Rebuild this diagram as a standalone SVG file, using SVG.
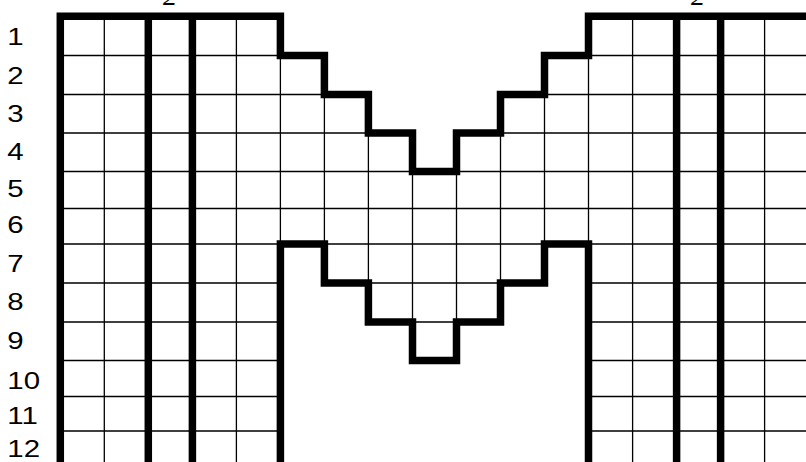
<svg xmlns="http://www.w3.org/2000/svg" width="806" height="462" viewBox="0 0 806 462">
<style>
.bg{fill:#fff}
.thin{stroke:#000;stroke-width:1.3;fill:none}
.thick{stroke:#000;stroke-width:7.5;fill:none;stroke-linejoin:miter;stroke-linecap:butt}
.lbl{font-family:"Liberation Sans",Arial,sans-serif;font-size:24.5px;fill:#000}
.frag{font-family:"Liberation Serif","Times New Roman",serif;font-style:italic;font-size:28px;fill:#000;text-anchor:middle}
</style>
<rect class="bg" x="0" y="0" width="806" height="462"/>
<g id="labels" transform="scale(1.2,1)">
<text class="lbl" x="6.1" y="45">1</text>
<text class="lbl" x="6.1" y="84">2</text>
<text class="lbl" x="6.1" y="122">3</text>
<text class="lbl" x="6.1" y="160">4</text>
<text class="lbl" x="6.1" y="197">5</text>
<text class="lbl" x="6.1" y="233">6</text>
<text class="lbl" x="6.1" y="272">7</text>
<text class="lbl" x="6.1" y="310">8</text>
<text class="lbl" x="6.1" y="349">9</text>
<text class="lbl" x="6.1" y="389">10</text>
<text class="lbl" x="6.1" y="424">11</text>
<text class="lbl" x="6.1" y="457">12</text>
</g>
<g id="top-fragments">
<text class="frag" x="170" y="5">2</text>
<text class="frag" x="698" y="5">2</text>
</g>
<g id="grid-left">
<path class="thin" d="M60.3 55.5H280.4M60.3 94.5H280.4M60.3 133H280.4M60.3 171.5H280.4M60.3 208.5H280.4M60.3 244H280.4M60.3 283H280.4M60.3 322H280.4M60.3 360.5H280.4M60.3 396.5H280.4M60.3 431H280.4"/>
<path class="thin" d="M104.3 16.3V462M236.4 16.3V462M280.4 55.5V244"/>
</g>
<g id="grid-right">
<path class="thin" d="M588.5 55.5H806M588.5 94.5H806M588.5 133H806M588.5 171.5H806M588.5 208.5H806M588.5 244H806M588.5 283H806M588.5 322H806M588.5 360.5H806M588.5 396.5H806M588.5 431H806"/>
<path class="thin" d="M632.6 16.3V462M764.6 16.3V462M588.5 55.5V244"/>
</g>
<g id="grid-middle">
<path class="thin" d="M280.4 94.5H324.4M544.5 94.5H588.5M280.4 133H368.4M500.5 133H588.5M280.4 171.5H412.5M456.5 171.5H588.5M280.4 208.5H588.5M324.4 244H544.5M368.4 283H500.5M412.5 322H456.5"/>
<path class="thin" d="M324.4 94.5V244M368.4 133V283M412.5 171.5V322M456.5 171.5V322M500.5 133V283M544.5 94.5V244"/>
</g>
<g id="connectors">
<path class="thick" d="M60.3 466V16.3H280.4V55.5H324.4V94.5H368.4V133H412.5V171.5H456.5V133H500.5V94.5H544.5V55.5H588.5V16.3H812"/>
<path class="thick" d="M280.4 466V244H324.4V283H368.4V322H412.5V360.5H456.5V322H500.5V283H544.5V244H588.5V466"/>
<path class="thick" d="M148.3 16.3V466M192.4 16.3V466M676.6 16.3V466M720.6 16.3V466"/>
</g>
</svg>
